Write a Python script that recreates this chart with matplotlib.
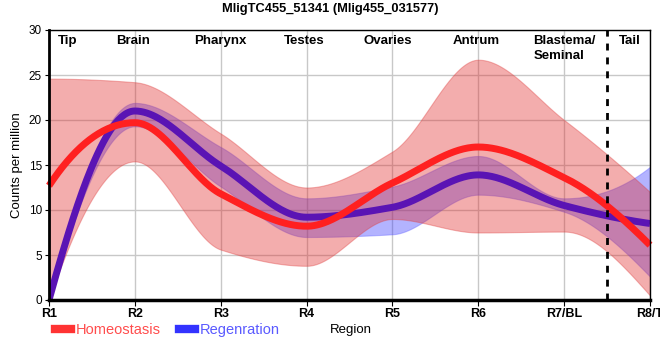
import numpy as np
import matplotlib
matplotlib.use("Agg")
import matplotlib.pyplot as plt
from matplotlib.lines import Line2D

plt.rcParams['font.family'] = ['Liberation Sans', 'DejaVu Sans']

regions = ['R1', 'R2', 'R3', 'R4', 'R5', 'R6', 'R7/BL', 'R8/T']
tissues = ['Tip', 'Brain', 'Pharynx', 'Testes', 'Ovaries', 'Antrum', 'Blastema/\nSeminal', 'Tail']

# Homeostasis: mean and band
homeo_mean = [12.7, 19.7, 11.8, 8.2, 13.0, 17.0, 13.6, 6.1]
homeo_upper = [24.6, 24.2, 18.5, 12.5, 16.5, 26.7, 20.0, 12.0]
homeo_lower = [0.0, 15.4, 5.6, 3.8, 9.0, 7.5, 7.6, 0.5]

# Regeneration: mean and band
regen_mean = [0.0, 21.0, 14.9, 9.2, 10.3, 13.9, 10.5, 8.5]
regen_upper = [0.5, 21.9, 17.0, 11.3, 12.6, 16.0, 11.3, 14.8]
regen_lower = [0.0, 19.3, 12.6, 7.0, 7.3, 11.7, 9.8, 2.6]


def pchip(x, y, xs):
    # monotone cubic smoothing between the region values
    x = np.asarray(x, float)
    y = np.asarray(y, float)
    h = np.diff(x)
    d = np.diff(y) / h
    n = len(x)
    m = np.zeros(n)
    for k in range(1, n - 1):
        if d[k - 1] * d[k] > 0:
            w1 = 2 * h[k] + h[k - 1]
            w2 = h[k] + 2 * h[k - 1]
            m[k] = (w1 + w2) / (w1 / d[k - 1] + w2 / d[k])
    for i, (a, b, ha, hb) in enumerate([(d[0], d[1], h[0], h[1]), (d[-1], d[-2], h[-1], h[-2])]):
        e = ((2 * ha + hb) * a - ha * b) / (ha + hb)
        if np.sign(e) != np.sign(a):
            e = 0.0
        elif np.sign(a) != np.sign(b) and abs(e) > 3 * abs(a):
            e = 3 * a
        m[0 if i == 0 else -1] = e
    idx = np.clip(np.searchsorted(x, xs) - 1, 0, n - 2)
    t = (xs - x[idx]) / h[idx]
    h00 = 2 * t**3 - 3 * t**2 + 1
    h10 = t**3 - 2 * t**2 + t
    h01 = -2 * t**3 + 3 * t**2
    h11 = t**3 - t**2
    return h00 * y[idx] + h10 * h[idx] * m[idx] + h01 * y[idx + 1] + h11 * h[idx] * m[idx + 1]


xp = np.arange(len(regions))
xs = np.linspace(0, len(regions) - 1, 400)

fig = plt.figure(figsize=(6.6, 3.6), dpi=100)
ax = fig.add_axes([49 / 660, 60 / 360, 601 / 660, 270 / 360])

ax.fill_between(xs, pchip(xp, regen_lower, xs), pchip(xp, regen_upper, xs),
                color='#3838ff', alpha=0.38, lw=0.8, edgecolor='#6060ff', zorder=2)
ax.fill_between(xs, pchip(xp, homeo_lower, xs), pchip(xp, homeo_upper, xs),
                facecolor='#e02828', alpha=0.38, lw=0.8, edgecolor='#e04040', zorder=3)
ax.plot(xs, pchip(xp, homeo_mean, xs), color='#ff2020', lw=5, zorder=5,
        solid_capstyle='butt', clip_on=False)
ax.plot(xs, pchip(xp, regen_mean, xs), color='#5a14b4', lw=5, zorder=4,
        solid_capstyle='butt')

ax.axvline(6.5, color='black', lw=2, ls=(0, (2.5, 2.5)), zorder=6)

label_x = [0.22, 0.98, 1.99, 2.97, 3.94, 4.98, 5.64, 6.77]
for lx, name in zip(label_x, tissues):
    ha = 'left' if name.startswith('Blastema') else 'center'
    ax.text(lx, 29.4, name, ha=ha, va='top', fontsize=9.5, fontweight='bold',
            linespacing=1.25, zorder=7)

ax.set_xlim(0, 7)
ax.set_ylim(0, 30)
ax.set_xticks(xp)
ax.set_xticklabels(regions, fontsize=9, fontweight='bold')
ax.set_yticks(range(0, 31, 5))
ax.tick_params(axis='y', labelsize=8.5, length=3, pad=2)
ax.tick_params(axis='x', length=4, pad=2)
ax.grid(True, color='#c8c8c8', lw=1)
ax.set_axisbelow(True)
for s in ['top', 'right']:
    ax.spines[s].set_linewidth(1)
ax.spines['left'].set_linewidth(2)
ax.spines['bottom'].set_linewidth(2.5)
for s in ax.spines.values():
    s.set_zorder(8)

ax.set_ylabel('Counts per million', fontsize=9.5, labelpad=4)
fig.text(351 / 660, 1 - 330 / 360, 'Region', ha='center', va='center', fontsize=9.5)
fig.text(0.5, 1 - 9 / 360, 'MligTC455_51341 (Mlig455_031577)', ha='center', va='center',
         fontsize=9.3, fontweight='bold')

handles = [Line2D([], [], color='#ff3333', lw=6), Line2D([], [], color='#3333ff', lw=6)]
leg = fig.legend(handles, ['Homeostasis', 'Regenration'], loc='center left',
                 bbox_to_anchor=(55 / 660, 1 - 330 / 360), ncol=2, frameon=False,
                 fontsize=10.5, handlelength=1.1, handletextpad=0.3, columnspacing=1.3,
                 borderpad=0, borderaxespad=0)
for txt, c in zip(leg.get_texts(), ['#ff4d4d', '#5a5aff']):
    txt.set_color(c)

fig.savefig('out.png', dpi=100)
